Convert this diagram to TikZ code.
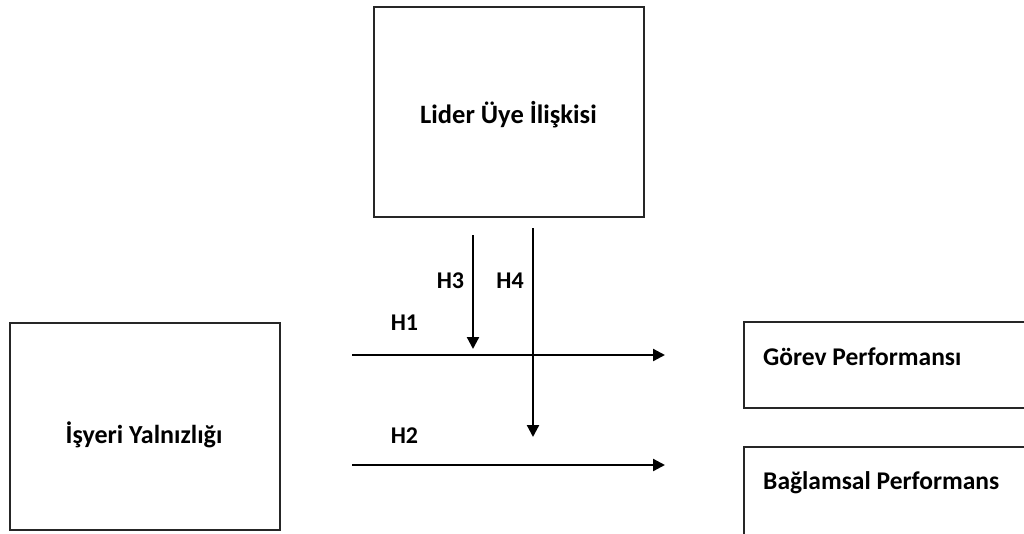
\documentclass[tikz,border=0pt]{standalone}
\usepackage{fontspec}
\setmainfont{Carlito}
\usetikzlibrary{arrows.meta}
\begin{document}
\begin{tikzpicture}[x=1pt,y=-1pt,
  box/.style={draw=black!85, line width=1.8pt, inner sep=0pt},
  boxtext/.style={anchor=base, inner sep=0pt, font=\bfseries\fontsize{26}{30}\selectfont},
  outtext/.style={anchor=base west, inner sep=0pt, font=\bfseries\fontsize{25.5}{30}\selectfont},
  hlabel/.style={anchor=base, inner sep=0pt, font=\bfseries\fontsize{24}{28}\selectfont},
  link/.style={line width=2.3pt, -{Triangle[length=12pt,width=12pt]}}]
\clip (0,0) rectangle (1024,533);
\fill[white] (0,0) rectangle (1024,533);

% boxes
\node[box, minimum width=270pt, minimum height=210pt] (lmx) at (509,112) {};
\node[box, minimum width=270pt, minimum height=207pt] (iy) at (145,426.5) {};
\node[box, minimum width=300pt, minimum height=86pt] (gp) at (894,365) {};
\node[box, minimum width=300pt, minimum height=120pt] (bp) at (894,507) {};

% box captions
\node[boxtext, font=\bfseries\fontsize{26.5}{30}\selectfont] (lmxt) at (508.5,123) {Lider Üye İlişkisi};
\node[boxtext] (iyt) at (144,443) {İşyeri Yalnızlığı};
\node[outtext] (gpt) at (763,365) {Görev Performansı};
\node[outtext] (bpt) at (763,489) {Bağlamsal Performans};

% arrow end points
\coordinate (h1s) at (352,355);
\coordinate (h1e) at (665,355);
\coordinate (h2s) at (352,465);
\coordinate (h2e) at (665,465);
\coordinate (h3s) at (473,235);
\coordinate (h3e) at (473,349);
\coordinate (h4s) at (533,228);
\coordinate (h4e) at (533,437);

\draw[link] (h1s) -- (h1e);
\draw[link] (h2s) -- (h2e);
\draw[link] (h3s) -- (h3e);
\draw[link] (h4s) -- (h4e);

% hypothesis labels
\node[hlabel] (l1) at (404.5,330) {H1};
\node[hlabel] (l2) at (404.5,443) {H2};
\node[hlabel] (l3) at (450.5,288) {H3};
\node[hlabel] (l4) at (510,288) {H4};
\end{tikzpicture}
\end{document}
